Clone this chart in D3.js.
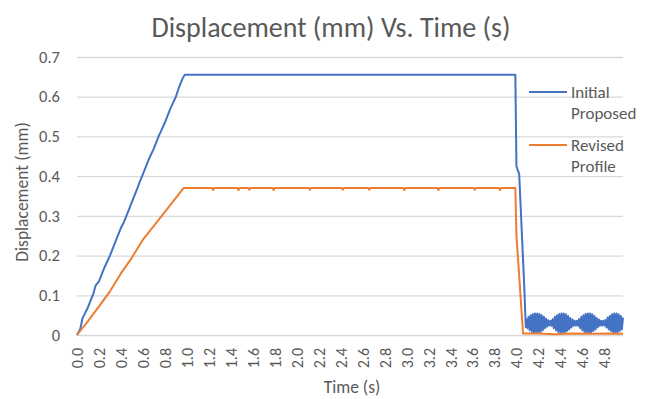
<!DOCTYPE html>
<html>
<head>
<meta charset="utf-8">
<script src="https://cdn.jsdelivr.net/npm/d3@7"></script>
<style>
  body { margin: 0; background: #fff; }
  text { font-family: Carlito, Calibri, Lato, sans-serif; fill: #595959; }
</style>
</head>
<body>
<script>
// set the dimensions of the chart
const width = 651;
const height = 399;

// data
const yTicks = [0, 0.1, 0.2, 0.3, 0.4, 0.5, 0.6, 0.7];
const xTicks = [0, 0.2, 0.4, 0.6, 0.8, 1.0, 1.2, 1.4, 1.6, 1.8, 2.0, 2.2, 2.4,
  2.6, 2.8, 3.0, 3.2, 3.4, 3.6, 3.8, 4.0, 4.2, 4.4, 4.6, 4.8];

// Initial Proposed: ramp, hold, drop
const initialRamp = [[0, 0], [0.03, 0.015], [0.05, 0.042], [0.1, 0.07], [0.15, 0.105],
  [0.17, 0.125], [0.2, 0.135], [0.25, 0.17], [0.3, 0.2], [0.35, 0.235], [0.4, 0.27],
  [0.42, 0.28], [0.45, 0.3], [0.5, 0.335], [0.55, 0.37], [0.57, 0.385], [0.6, 0.405],
  [0.65, 0.44], [0.7, 0.47], [0.75, 0.505], [0.76, 0.51], [0.8, 0.535], [0.85, 0.57],
  [0.9, 0.6], [0.93, 0.625], [0.96, 0.645], [0.98, 0.655]];
const initialHold = [[3.99, 0.655], [4.0, 0.425], [4.025, 0.405], [4.07, 0.13], [4.085, 0.02]];
// residual vibration after the drop, sampled every 10 ms from 4.09 s
const tailStart = 4.09;
const tailStep = 0.01;
const initialTail = [
  0.040, 0.017, 0.046, 0.012, 0.050, 0.008, 0.053, 0.006, 0.054, 0.006, 0.054, 0.006,
  0.053, 0.008, 0.050, 0.012, 0.046, 0.017, 0.041, 0.021, 0.037, 0.024, 0.036,
  0.023, 0.040, 0.017, 0.046, 0.012, 0.050, 0.008, 0.053, 0.006, 0.054, 0.006, 0.054,
  0.007, 0.052, 0.010, 0.048, 0.014, 0.043, 0.019, 0.039, 0.023, 0.036, 0.024, 0.036,
  0.023, 0.040, 0.017, 0.046, 0.012, 0.050, 0.008, 0.053, 0.006, 0.054, 0.006, 0.054,
  0.007, 0.052, 0.010, 0.048, 0.014, 0.043, 0.019, 0.039, 0.023, 0.036, 0.024, 0.036,
  0.024, 0.038, 0.019, 0.044, 0.014, 0.048, 0.010, 0.052, 0.007, 0.054, 0.006, 0.054,
  0.007, 0.052, 0.010, 0.048, 0.014, 0.044];

// Revised Profile
const revisedRamp = [[0, 0], [0.1, 0.035], [0.2, 0.072], [0.3, 0.11], [0.4, 0.155],
  [0.5, 0.195], [0.6, 0.24], [0.7, 0.275], [0.8, 0.31], [0.9, 0.345], [0.97, 0.37]];
const revisedHold = [[1.23, 0.37], [1.24, 0.365], [1.25, 0.37], [1.46, 0.37], [1.47, 0.365],
  [1.48, 0.37], [1.56, 0.37], [1.57, 0.366], [1.58, 0.37], [1.78, 0.37], [1.79, 0.365],
  [1.8, 0.37], [2.11, 0.37], [2.12, 0.366], [2.13, 0.37], [2.41, 0.37], [2.42, 0.366],
  [2.43, 0.37], [2.65, 0.37], [2.66, 0.366], [2.67, 0.37], [2.97, 0.37], [2.98, 0.365],
  [2.99, 0.37], [3.28, 0.37], [3.29, 0.365], [3.3, 0.37], [3.61, 0.37], [3.62, 0.366],
  [3.63, 0.37], [3.84, 0.37], [3.85, 0.365], [3.86, 0.37], [3.99, 0.37]];
const revisedDrop = [[4.0, 0.25], [4.02, 0.17], [4.06, 0.004], [4.2, 0.004], [4.35, 0.002],
  [4.5, 0.004], [4.7, 0.003], [4.85, 0.004], [4.97, 0.003]];

const series = [
  { name: ["Initial", "Proposed"], color: "#4472C4",
    points: initialRamp.concat(initialHold, initialTail.map((v, i) => [tailStart + i * tailStep, v])) },
  { name: ["Revised", "Profile"], color: "#ED7D31",
    points: revisedRamp.concat(revisedHold, revisedDrop) },
];

const svg = d3.select("body").append("svg")
  .attr("width", width)
  .attr("height", height);

const x = d3.scaleLinear().domain([0, 4.97]).range([77, 623]);
const y = d3.scaleLinear().domain([0, 0.7]).range([335, 57]);

// gridlines + y labels
const yAxis = svg.append("g")
  .attr("transform", `translate(${x.range()[0]},0)`)
  .call(d3.axisLeft(y).tickValues(yTicks).tickSize(-(x.range()[1] - x.range()[0]))
    .tickPadding(17).tickFormat(d3.format("~g")));
yAxis.select(".domain").remove();
yAxis.selectAll(".tick line").attr("stroke", "#d9d9d9").attr("stroke-width", 1.3);
yAxis.selectAll(".tick text").style("font-size", "16.5px").attr("fill", "#595959");

// x labels, rotated
const xAxis = svg.append("g")
  .attr("transform", `translate(0,${y(0)})`)
  .call(d3.axisBottom(x).tickValues(xTicks).tickSize(0).tickFormat(d3.format(".1f")));
xAxis.select(".domain").remove();
xAxis.selectAll(".tick text")
  .style("font-size", "16px")
  .attr("fill", "#595959")
  .attr("text-anchor", "end")
  .attr("dominant-baseline", "central")
  .attr("transform", "translate(0,13) rotate(-90)")
  .attr("x", 0).attr("y", 0).attr("dy", null);

// lines
const line = d3.line().x((d) => x(d[0])).y((d) => y(d[1]));
svg.append("g")
  .selectAll("path")
  .data(series)
  .join("path")
  .attr("fill", "none")
  .attr("stroke", (d) => d.color)
  .attr("stroke-width", 2)
  .attr("stroke-linejoin", "round")
  .attr("d", (d) => line(d.points));

// legend
const legend = svg.append("g")
  .selectAll("g")
  .data(series)
  .join("g")
  .attr("transform", (d, i) => `translate(529,${92 + i * 53})`);
legend.append("line")
  .attr("x1", 0).attr("x2", 38)
  .attr("stroke", (d) => d.color)
  .attr("stroke-width", 2);
legend.append("text")
  .style("font-size", "17px")
  .selectAll("tspan")
  .data((d) => d.name)
  .join("tspan")
  .attr("x", 42)
  .attr("y", (d, i) => i * 21 + 6)
  .text((d) => d);

// titles
svg.append("text")
  .attr("x", 331).attr("y", 37)
  .attr("text-anchor", "middle")
  .style("font-size", "28px")
  .text("Displacement (mm) Vs. Time (s)");

svg.append("text")
  .attr("x", 352).attr("y", 393)
  .attr("text-anchor", "middle")
  .style("font-size", "17.5px")
  .text("Time (s)");

svg.append("text")
  .attr("transform", "translate(28,192) rotate(-90)")
  .attr("text-anchor", "middle")
  .style("font-size", "17.5px")
  .text("Displacement (mm)");
</script>
</body>
</html>
